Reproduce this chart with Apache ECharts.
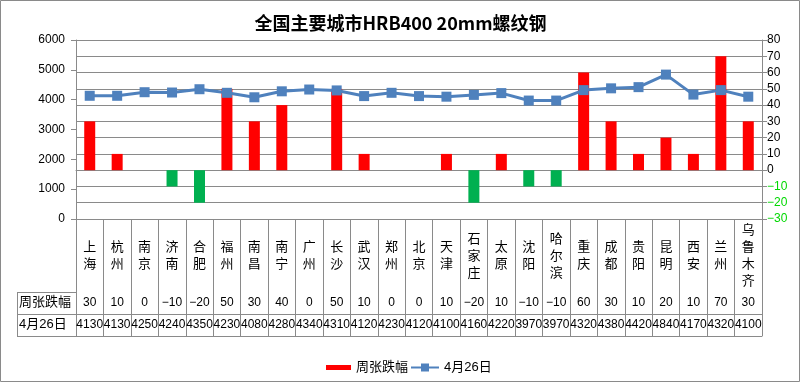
<!DOCTYPE html>
<html><head><meta charset="utf-8">
<script src="https://cdn.jsdelivr.net/npm/echarts@6/dist/echarts.min.js"></script>
<style>html,body{margin:0;padding:0;background:#fff}#c{width:801px;height:383px}</style>
</head><body><div id="c"></div>
<script>
var titleText = '全国主要城市HRB400 20mm螺纹钢';
var cities = ['上海','杭州','南京','济南','合肥','福州','南昌','南宁','广州','长沙','武汉','郑州','北京','天津','石家庄','太原','沈阳','哈尔滨','重庆','成都','贵阳','昆明','西安','兰州','乌鲁木齐'];
var changes = [30,10,0,-10,-20,50,30,40,0,50,10,0,0,10,-20,10,-10,-10,60,30,10,20,10,70,30];
var prices = [4130,4130,4250,4240,4350,4230,4080,4280,4340,4310,4120,4230,4120,4100,4160,4220,3970,3970,4320,4380,4420,4840,4170,4320,4100];
var seriesNames = ['周张跌幅','4月26日'];

var FONT = "'Liberation Sans','Noto Sans CJK SC',sans-serif";
var GRAY = '#8a8a8a';
var RED = '#FF0000', GREEN = '#00B050', BLUE = '#4F81BD';
function fmtNum(v){ return v < 0 ? '\u2212' + Math.abs(v) : String(v); }

var chart = echarts.init(document.getElementById('c'));
chart.setOption({
  animation: false,
  backgroundColor: '#fff',
  title: {
    text: titleText, left: 'center', top: 9,
    textStyle: { fontFamily: "'Noto Sans CJK SC',sans-serif", fontSize: 18, fontWeight: 'bold', color: '#000' }
  },
  legend: [
    { data: [{ name: seriesNames[0], itemStyle: { color: RED } }], left: 321, top: 356, icon: 'rect', itemWidth: 25, itemHeight: 5,
      textStyle: { fontFamily: FONT, fontSize: 13, color: '#000' } },
    { data: [seriesNames[1]], left: 405, top: 356, itemWidth: 28, itemHeight: 10,
      textStyle: { fontFamily: FONT, fontSize: 13, color: '#000' } }
  ],
  grid: { left: 76, right: 39, top: 40, bottom: 164 },
  xAxis: [
    { type: 'category', data: cities, position: 'bottom', offset: 0,
      axisLine: { show: true, lineStyle: { color: GRAY } },
      axisTick: { show: true, length: 117, interval: 0, lineStyle: { color: GRAY } },
      axisLabel: { interval: 0, margin: 37, verticalAlign: 'middle', fontFamily: FONT, fontSize: 13, lineHeight: 17, color: '#000',
        formatter: function(v){ return v.split('').join('\n'); } },
      splitLine: { show: false } },
    { type: 'category', data: changes.map(fmtNum), position: 'bottom', offset: 73,
      axisLine: { show: true, lineStyle: { color: GRAY } }, axisTick: { show: false },
      axisLabel: { interval: 0, margin: 11, verticalAlign: 'middle', fontFamily: FONT, fontSize: 12, color: '#000' } },
    { type: 'category', data: prices.map(String), position: 'bottom', offset: 95,
      axisLine: { show: true, lineStyle: { color: GRAY } }, axisTick: { show: false },
      axisLabel: { interval: 0, margin: 11, verticalAlign: 'middle', fontFamily: FONT, fontSize: 12, color: '#000' } },
    { type: 'category', data: cities, position: 'bottom', offset: 117,
      axisLine: { show: true, lineStyle: { color: GRAY } }, axisTick: { show: false },
      axisLabel: { show: false } }
  ],
  yAxis: [
    { type: 'value', min: 0, max: 6000, interval: 1000, position: 'left',
      axisLine: { show: true, lineStyle: { color: GRAY } },
      axisTick: { show: true, length: 5, lineStyle: { color: GRAY } },
      axisLabel: { margin: 11, fontFamily: FONT, fontSize: 12, color: '#000', formatter: function(v){ return String(v); } },
      splitLine: { show: false } },
    { type: 'value', min: -30, max: 80, interval: 10, position: 'right',
      axisLine: { show: true, lineStyle: { color: GRAY } },
      axisTick: { show: true, length: 5, lineStyle: { color: GRAY } },
      axisLabel: { margin: 5, fontFamily: FONT, fontSize: 12,
        formatter: function(v){ return v < 0 ? '{g|' + fmtNum(v) + '}' : String(v); },
        color: '#000',
        rich: { g: { color: '#00D800', fontFamily: FONT, fontSize: 12 } } },
      splitLine: { show: true, lineStyle: { color: GRAY, width: 1 } } }
  ],
  series: [
    { name: seriesNames[0], type: 'bar', xAxisIndex: 0, yAxisIndex: 1, data: changes, barWidth: 11,
      itemStyle: { color: function(p){ return p.value < 0 ? GREEN : RED; } } },
    { name: seriesNames[1], type: 'line', xAxisIndex: 0, yAxisIndex: 0, data: prices,
      symbol: 'rect', symbolSize: 10,
      lineStyle: { color: BLUE, width: 3 }, itemStyle: { color: BLUE } }
  ],
  graphic: [
    { type: 'rect', shape: { x: 0.5, y: 0.5, width: 799, height: 381 }, style: { fill: 'none', stroke: GRAY, lineWidth: 1 }, silent: true },
    { type: 'line', shape: { x1: 17.5, y1: 292, x2: 17.5, y2: 336.5 }, style: { stroke: GRAY, lineWidth: 1 } },
    { type: 'line', shape: { x1: 17, y1: 292.5, x2: 77, y2: 292.5 }, style: { stroke: GRAY, lineWidth: 1 } },
    { type: 'line', shape: { x1: 17, y1: 314.5, x2: 77, y2: 314.5 }, style: { stroke: GRAY, lineWidth: 1 } },
    { type: 'line', shape: { x1: 17, y1: 336.5, x2: 77, y2: 336.5 }, style: { stroke: GRAY, lineWidth: 1 } },
    { type: 'text', left: 19, top: 296, style: { text: seriesNames[0], fontFamily: FONT, fontSize: 13, fill: '#000' } },
    { type: 'text', left: 19, top: 318, style: { text: seriesNames[1], fontFamily: FONT, fontSize: 13, fill: '#000' } }
  ]
});
</script></body></html>
